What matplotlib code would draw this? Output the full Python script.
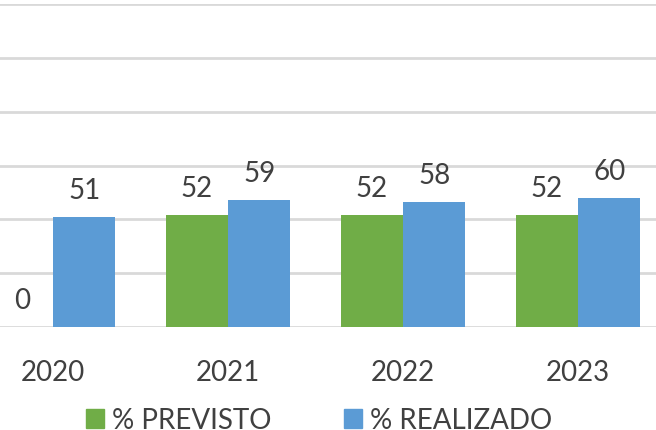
import numpy as np
import matplotlib
matplotlib.use("Agg")
import matplotlib.pyplot as plt
from matplotlib.patches import Patch

# ── DATA ────────────────────────────────────────────────────────────────────
years     = ["2020", "2021", "2022", "2023"]
previsto  = [0, 52, 52, 52]
realizado = [51, 59, 58, 60]
series_names = ["% PREVISTO", "% REALIZADO"]

GREEN = "#70AD47"
BLUE  = "#5B9BD5"
TEXT  = "#404040"
GRID  = "#D9D9D9"

plt.rcParams["font.family"] = ["Lato", "DejaVu Sans"]

fig = plt.figure(figsize=(6.56, 4.31), dpi=100)
# axes spans full width; the chart is cropped on both sides
ax = fig.add_axes([0, 1 - 328 / 431, 1, 323 / 431])

x = np.arange(len(years))
w = 0.357
b1 = ax.bar(x - w / 2, previsto, w, color=GREEN, zorder=3)
b2 = ax.bar(x + w / 2, realizado, w, color=BLUE, zorder=3)

for bars in (b1, b2):
    for rect in bars:
        h = rect.get_height()
        ax.annotate(f"{h:.0f}", (rect.get_x() + rect.get_width() / 2, h),
                    xytext=(0, 10), textcoords="offset points",
                    ha="center", va="bottom", fontsize=20, color=TEXT)

ax.set_xlim((0 - 53) / 175, (656 - 53) / 175)
ax.set_ylim(0, 150)
ax.set_yticks(np.arange(0, 151, 25))
ax.yaxis.grid(True, color=GRID, linewidth=2, zorder=0)
ax.set_xticks(x)
ax.set_xticklabels(years, fontsize=20, color=TEXT)
ax.tick_params(axis="x", length=0, pad=23)
ax.tick_params(axis="y", length=0, labelleft=False)
for s in ax.spines.values():
    s.set_visible(False)

handles = [Patch(color=GREEN), Patch(color=BLUE)]
fig.legend(handles, series_names, loc="lower left", bbox_to_anchor=(86 / 656, -0.008),
           ncol=2, frameon=False, fontsize=20, labelcolor=TEXT,
           handlelength=0.65, handleheight=0.65, handletextpad=0.3,
           columnspacing=2.6, borderaxespad=0, borderpad=0)

fig.savefig("out.png", dpi=100)
